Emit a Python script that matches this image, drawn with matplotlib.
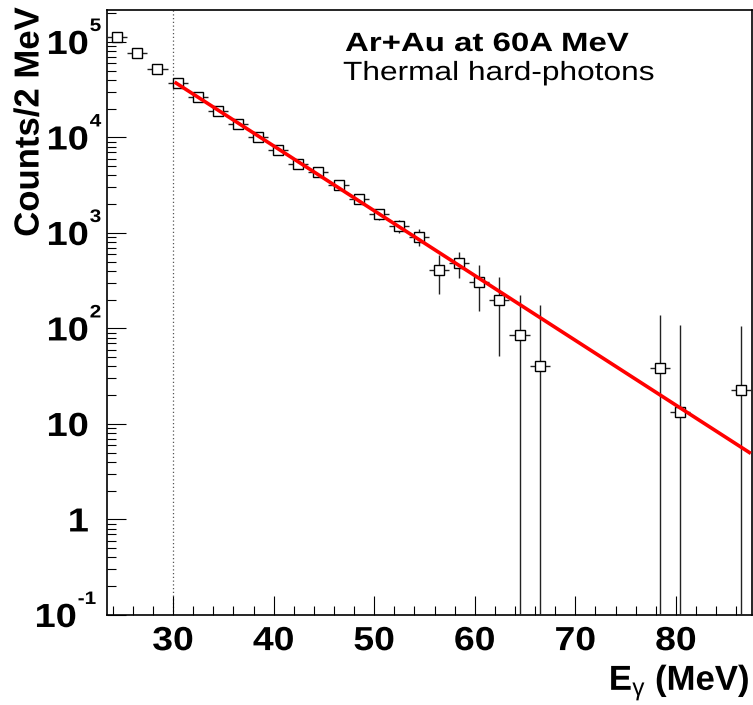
import matplotlib
matplotlib.use("Agg")
import matplotlib.pyplot as plt
import numpy as np
from matplotlib.patheffects import AbstractPathEffect
from matplotlib.ticker import FixedLocator, LogLocator, MultipleLocator, NullFormatter
from matplotlib.transforms import Affine2D, offset_copy

plt.rcParams['font.family'] = ['Liberation Sans', 'DejaVu Sans']
plt.rcParams['mathtext.fontset'] = 'custom'
plt.rcParams['mathtext.rm'] = 'Liberation Sans'
plt.rcParams['mathtext.bf'] = 'Liberation Sans:bold'
plt.rcParams['mathtext.it'] = 'Liberation Sans:italic'

# photon energy bin centres (MeV), 2 MeV bins
energy = [24.45, 26.45, 28.45, 30.45, 32.45, 34.45, 36.45, 38.45, 40.45, 42.45,
          44.45, 46.45, 48.45, 50.45, 52.45, 54.45, 56.45, 58.45, 60.45, 62.45,
          64.45, 66.45, 78.45, 80.45, 86.45]
counts = [1.135e5, 7.62e4, 5.19e4, 3.70e4, 2.64e4, 1.89e4, 1.39e4, 1.01e4, 7.44e3, 5.27e3,
          4.31e3, 3.21e3, 2.27e3, 1.58e3, 1.19e3, 909, 407, 486, 307, 198,
          85, 40.4, 38.2, 13.3, 22.9]
count_err = [2500, 2000, 1600, 1300, 1000, 850, 700, 600, 500, 420,
             380, 300, 260, 220, 190, 180, 177, 150, 155, 147,
             138, 134, 100, 96, 82]
bin_half = 1.0

# exponential slope fit  N(E) = N30 * exp(-(E - 30) / T)
fit_n30 = 3.89e4
fit_T = 6.4
fit_lo, fit_hi = 30.3, 87.3
threshold = 30

xticks = [30, 40, 50, 60, 70, 80]
yticks = [1e-1, 1, 10, 1e2, 1e3, 1e4, 1e5]
ytick_base = ["10", "1", "10", "10", "10", "10", "10"]
ytick_exp = ["-1", "", "", "2", "3", "4", "5"]


class Wide(AbstractPathEffect):
    # ROOT renders its fonts wider than Helvetica, stretch glyphs along the text
    def __init__(self, sx=1.3, anchor="center"):
        super().__init__()
        self.sx = sx
        self.anchor = anchor

    def draw_path(self, renderer, gc, tpath, affine, rgbFace=None):
        ext = tpath.get_extents()
        x0 = {"left": 0.0, "center": (ext.x0 + ext.x1) / 2, "right": ext.x1}[self.anchor]
        st = Affine2D().translate(-x0, 0).scale(self.sx, 1).translate(x0, 0)
        renderer.draw_path(gc, tpath, st + affine, rgbFace)


counts = np.array(counts)
count_err = np.array(count_err)
# bars that reach zero go down to the bottom of the log axis
err_low = np.where(count_err >= counts, counts - 1e-4, count_err)

fig = plt.figure(figsize=(7.53, 7.05), dpi=100)
ax = fig.add_axes([0.1417, 0.1277, 0.8574, 0.8581])

ax.axvline(threshold, color="#555555", ls=(0, (1, 2)), lw=0.9, zorder=1)
ax.errorbar(energy, counts, xerr=bin_half, yerr=[err_low, count_err], fmt="s",
            ms=7.3, mfc="white", mec="black", mew=1.0, ecolor="#222222",
            elinewidth=1.0, capsize=0, zorder=3)

e_fit = np.linspace(fit_lo, fit_hi, 200)
ax.plot(e_fit, fit_n30 * np.exp(-(e_fit - 30) / fit_T), color="red", lw=2.6, zorder=4)

ax.set_yscale("log")
ax.set_xlim(23.4, 87.6)
ax.set_ylim(0.1, 2.16e5)

ax.xaxis.set_major_locator(FixedLocator(xticks))
ax.xaxis.set_minor_locator(MultipleLocator(2))
ax.yaxis.set_major_locator(FixedLocator(yticks))
ax.yaxis.set_minor_locator(LogLocator(base=10, subs=np.arange(2, 10), numticks=30))
ax.yaxis.set_minor_formatter(NullFormatter())
ax.set_xticklabels([str(t) for t in xticks])
ax.set_yticklabels([])

ax.tick_params(which="both", direction="in", top=False, right=False, width=0.8,
               labelsize=24)
ax.tick_params(which="major", length=13.5)
ax.tick_params(which="minor", length=6.5)
ax.tick_params(axis="x", pad=8)
for sp in ax.spines.values():
    sp.set_linewidth(1.2)

for lab in ax.get_xticklabels():
    lab.set_fontweight("bold")
    lab.set_path_effects([Wide(1.12, "center")])

# ROOT style log labels: big "10" with a small raised exponent
for val, base, ex in zip(yticks, ytick_base, ytick_exp):
    shift = -30 if ex.startswith("-") else -18
    tb = offset_copy(ax.get_yaxis_transform(), fig=fig, x=shift, y=-12, units="dots")
    ax.text(0, val, base, transform=tb, fontsize=24, fontweight="bold", ha="right",
            va="baseline", path_effects=[Wide(1.14, "right")])
    if ex:
        te = offset_copy(ax.get_yaxis_transform(), fig=fig, x=shift + 1, y=11, units="dots")
        ax.text(0, val, ex, transform=te, fontsize=13, fontweight="bold", ha="left",
                va="baseline", path_effects=[Wide(1.15, "left")])

fig.text(345 / 753, 1 - 51 / 705, "Ar+Au at 60A MeV", fontsize=19, fontweight="bold",
         ha="left", va="baseline", path_effects=[Wide(1.25, "left")])
fig.text(343 / 753, 1 - 80 / 705, "Thermal hard-photons", fontsize=19,
         ha="left", va="baseline", path_effects=[Wide(1.2, "left")])

fig.text(29 / 753, 1 - 122 / 705, "Counts/2 MeV", fontsize=25, fontweight="bold",
         rotation=90, ha="center", va="center", path_effects=[Wide(1.0, "center")])
fig.text(750 / 753, 1 - 690 / 705, r"E$_{\mathrm{\gamma}}$ (MeV)", fontsize=25,
         fontweight="bold", ha="right", va="baseline", path_effects=[Wide(1.0, "right")])

fig.savefig("out.png", dpi=100)
